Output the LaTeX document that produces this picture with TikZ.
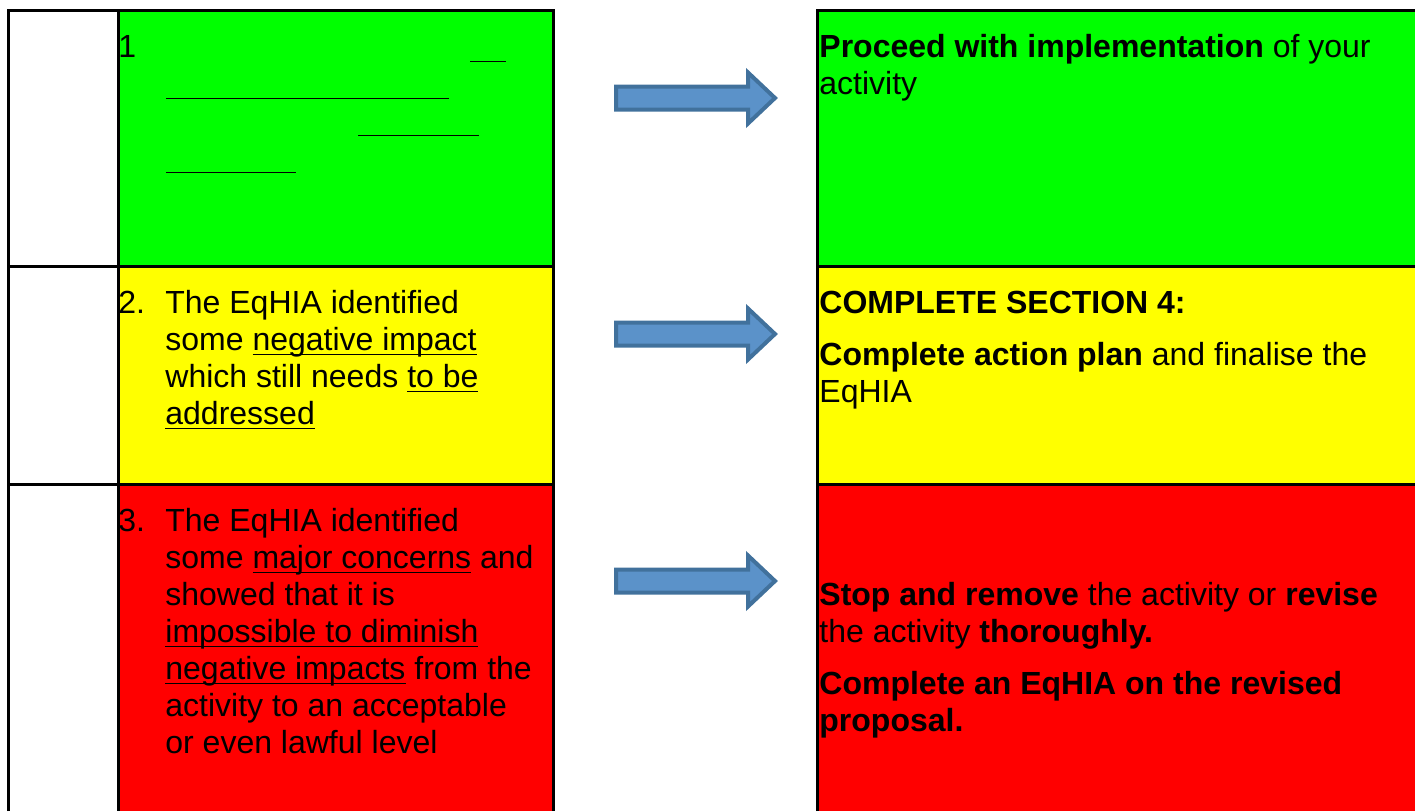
\documentclass[tikz,border=0pt]{standalone}
\usepackage{fontspec}
\setmainfont{Liberation Sans}
\usepackage{xcolor}
\usetikzlibrary{positioning}
\definecolor{cellgreen}{RGB}{0,255,0}
\definecolor{cellyellow}{RGB}{255,255,0}
\definecolor{cellred}{RGB}{255,0,0}
\definecolor{arrowfill}{RGB}{91,146,201}
\definecolor{arrowline}{RGB}{65,113,156}
\newcommand{\undl}[1]{{\setbox0\hbox{#1}\rlap{\rule[-2.3pt]{\wd0}{0.75pt}}\box0}}

\begin{document}
\begin{tikzpicture}[x=0.5pt,y=-0.5pt,
    rule/.style={line width=1.5pt},
    blankline/.style={line width=0.75pt},
    celltext/.style={anchor=north west,inner sep=0pt,align=left,font=\fontsize{16}{18.5}\selectfont},
    itemnum/.style={anchor=base west,inner sep=0pt,font=\fontsize{16}{18.5}\selectfont},
    blockarrow/.style={fill=arrowfill,draw=arrowline,line width=2pt,line join=miter}]
    \useasboundingbox (0,0) rectangle (1415,811);

    % LEFT: outcome cells
    \fill[cellgreen]  (118,10)  rectangle (553,266);
    \fill[cellyellow] (118,266) rectangle (553,484);
    \fill[cellred]    (118,484) rectangle (553,811);
    \draw[rule] (8,811) -- (8,10) -- (553,10) -- (553,811);
    \draw[rule] (118,10) -- (118,811);
    \draw[rule] (8,266) -- (553,266) (8,484) -- (553,484);

    % RIGHT: action cells
    \fill[cellgreen]  (817,10)  rectangle (1415,266);
    \fill[cellyellow] (817,266) rectangle (1415,484);
    \fill[cellred]    (817,484) rectangle (1415,811);
    \draw[rule] (817,811) -- (817,10) -- (1415,10);
    \draw[rule] (817,266) -- (1415,266) (817,484) -- (1415,484);

    % outcome 1: only blank underlines
    \node[itemnum] (num1) at (118,57) {1};
    \draw[blankline] (470,61.5) -- (506,61.5);
    \draw[blankline] (166,98.5) -- (449,98.5);
    \draw[blankline] (358,135.5) -- (479,135.5);
    \draw[blankline] (166,172.5) -- (296,172.5);

    % outcome 2
    \node[itemnum] (num2) at (118,313) {2.};
    \node[celltext] (out2) at (165,287.1) {\strut The EqHIA identified\\
        some \undl{negative impact}\\
        which still needs \undl{to be}\\
        \undl{addressed}};

    % outcome 3
    \node[itemnum] (num3) at (118,531) {3.};
    \node[celltext] (out3) at (165,505.1) {\strut The EqHIA identified\\
        some \undl{major concerns} and\\
        showed that it is\\
        \undl{impossible to diminish}\\
        \undl{negative impacts} from the\\
        activity to an acceptable\\
        or even lawful level};

    % actions
    \node[celltext] (act1) at (819,31.1) {\strut\textbf{Proceed with implementation} of your\\
        activity};
    \node[celltext] (act2) at (819,287.1) {\strut\textbf{COMPLETE SECTION 4:}\\[7.5pt]
        \textbf{Complete action plan} and finalise the\\
        EqHIA};
    \node[celltext] (act3) at (819,579.1) {\strut\textbf{Stop and remove} the activity or \textbf{revise}\\
        the activity \textbf{thoroughly.}\\[7.5pt]
        \textbf{Complete an EqHIA on the revised}\\
        \textbf{proposal.}};

    % MIDDLE: block arrows
    \foreach \yc in {98,334,581}
        \draw[blockarrow] (616,\yc-11.5) -- (748,\yc-11.5) -- (748,\yc-25.5)
            -- (775,\yc) -- (748,\yc+25.5) -- (748,\yc+11.5) -- (616,\yc+11.5) -- cycle;
\end{tikzpicture}
\end{document}
